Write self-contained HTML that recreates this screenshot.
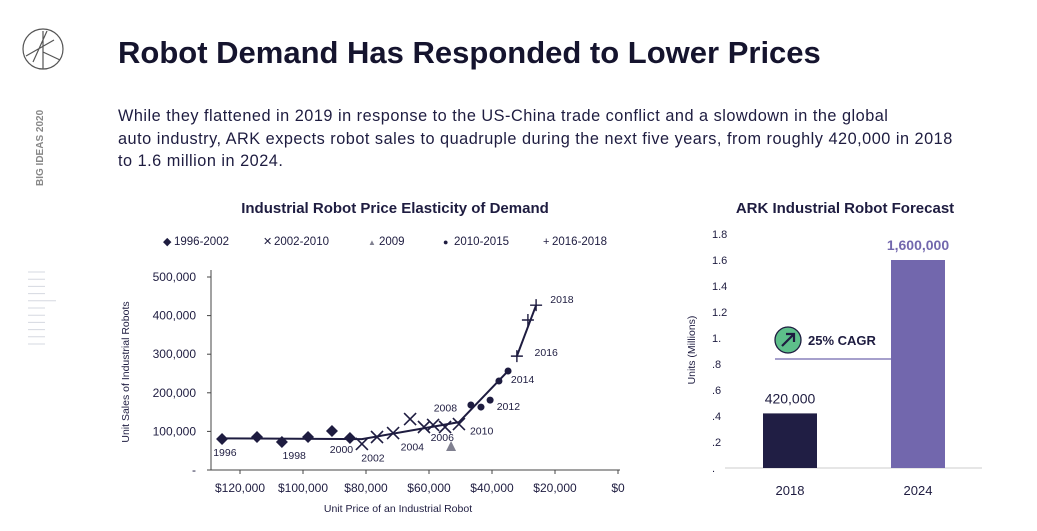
<!DOCTYPE html>
<html><head><meta charset="utf-8">
<style>
body{margin:0;width:1037px;height:531px;background:#fff;font-family:"Liberation Sans",sans-serif;color:#1e1c40;overflow:hidden;position:relative}
#title{position:absolute;left:118px;top:35px;font-size:31px;font-weight:bold;letter-spacing:0px;color:#15142e;white-space:nowrap}
#sub{position:absolute;left:118px;top:105px;font-size:16.3px;letter-spacing:0.5px;line-height:22.5px;color:#1e1c40;width:900px;white-space:nowrap}
svg{position:absolute;left:0;top:0}
</style></head><body>
<div id="title">Robot Demand Has Responded to Lower Prices</div>
<div id="sub">While they flattened in 2019 in response to the US-China trade conflict and a slowdown in the global<br>auto industry, ARK expects robot sales to quadruple during the next five years, from roughly 420,000 in 2018<br>to 1.6 million in 2024.</div>
<svg id="s" width="1037" height="531" font-family="Liberation Sans, sans-serif">
<g stroke="#555" fill="none" stroke-width="1.2">
<circle cx="43" cy="49" r="20"/><path d="M33 62 L47 31 M43 31 V69 M26 56 L54 40 M43 52 L60 60"/></g>
<text transform="translate(43,186) rotate(-90)" font-size="10" font-weight="bold" fill="#888">BIG IDEAS 2020</text>
<g id="side" stroke="#d5d8e0"></g>
<text x="395" y="213" text-anchor="middle" font-size="15" font-weight="bold" fill="#1e1c40">Industrial Robot Price Elasticity of Demand</text>
<text x="845" y="213" text-anchor="middle" font-size="15" font-weight="bold" fill="#1e1c40">ARK Industrial Robot Forecast</text>
<g id="left"></g><g id="right"></g>
</svg>
<script>
// Left chart data
const diamondPrice=[125700,114600,106700,98400,90800,85100];
const diamondUnits=[80300,85500,72500,85500,101000,82900];
const xPrice=[81300,76500,71400,66000,61600,58700,54900,50500];
const xUnits=[67400,85500,95800,132000,111400,116600,111400,119000];
const triPrice=[53000];const triUnits=[59600];
const dotPrice=[46700,43500,40600,37800,34900];
const dotUnits=[168400,163000,181000,230600,256500];
const plusPrice=[32100,28600,26000];
const plusUnits=[295000,388600,427000];
const trendPrice=[125700,81300,50500,34900];
const trendUnits=[82000,80000,124000,256500];
const trend2Price=[32100,26000];const trend2Units=[295000,427000];
const xTicks=[120000,100000,80000,60000,40000,20000,0];
const xTickLabels=["$120,000","$100,000","$80,000","$60,000","$40,000","$20,000","$0"];
const yTicks=[0,100000,200000,300000,400000,500000];
const yTickLabels=["-","100,000","200,000","300,000","400,000","500,000"];
const yearLabels=["1996","1998","2000","2002","2004","2006","2008","2010","2012","2014","2016","2018"];
const yearPrice=[128500,106500,91500,81500,69000,59500,58500,47000,38500,34000,26500,21500];
const yearUnits=[36000,28000,44000,22000,50000,75000,152000,92000,155000,226000,295000,433000];
// Right chart data
const barCats=["2018","2024"];const barVals=[0.42,1.6];
const barLabels=["420,000","1,600,000"];
const rTicks=[0,0.2,0.4,0.6,0.8,1.0,1.2,1.4,1.6,1.8];
const rTickLabels=[".",".2",".4",".6",".8","1.","1.2","1.4","1.6","1.8"];

const NS="http://www.w3.org/2000/svg";
function mk(p,t,a,txt){const e=document.createElementNS(NS,t);for(const k in a)e.setAttribute(k,a[k]);if(txt!==undefined)e.textContent=txt;p.appendChild(e);return e;}
const side=document.getElementById('side');
for(let i=0;i<11;i++){const l=mk(side,'line',{x1:28,x2:i==4?56:45,y1:272+i*7.2,y2:272+i*7.2});

}
const L=document.getElementById('left');
const X=v=>618-v*63/20000, Y=v=>470-v*38.6/100000;
const C="#1e1c40";
let ax=mk(L,'path',{d:'M211 270 V470 H620',stroke:'#444',fill:'none','stroke-width':1});


xTicks.forEach((v,i)=>{mk(L,'line',{x1:X(v),x2:X(v),y1:470,y2:474,stroke:'#444'});
const t=mk(L,'text',{x:X(v),y:492,'text-anchor':'middle','font-size':12,fill:C},xTickLabels[i]);

});
yTicks.forEach((v,i)=>{mk(L,'line',{x1:207,x2:211,y1:Y(v),y2:Y(v),stroke:'#444'});
const t=mk(L,'text',{x:196,y:Y(v)+4,'text-anchor':'end','font-size':12,fill:C},yTickLabels[i]);

});
let yt=mk(L,'text',{transform:'translate(129,372) rotate(-90)','text-anchor':'middle','font-size':10.5,fill:C},'Unit Sales of Industrial Robots');


let xt=mk(L,'text',{x:398,y:512,'text-anchor':'middle','font-size':10.5,fill:C},'Unit Price of an Industrial Robot');


function poly(pr,un,name){const d=pr.map((p,i)=>(i?'L':'M')+X(p)+' '+Y(un[i])).join(' ');
const e=mk(L,'path',{d:d,stroke:C,fill:'none','stroke-width':2});

}
poly(trendPrice,trendUnits,'trend-line');poly(trend2Price,trend2Units,'trend-line-2016-2018');
diamondPrice.forEach((p,i)=>{const x=X(p),y=Y(diamondUnits[i]);
const e=mk(L,'path',{d:`M${x} ${y-6}L${x+6} ${y}L${x} ${y+6}L${x-6} ${y}Z`,fill:C});

});
xPrice.forEach((p,i)=>{const x=X(p),y=Y(xUnits[i]);
const e=mk(L,'path',{d:`M${x-6} ${y-6}L${x+6} ${y+6}M${x+6} ${y-6}L${x-6} ${y+6}`,stroke:C,'stroke-width':1.6});

});
triPrice.forEach((p,i)=>{const x=X(p),y=Y(triUnits[i]);
const e=mk(L,'path',{d:`M${x} ${y-6}L${x+5} ${y+4}L${x-5} ${y+4}Z`,fill:'#808090'});

});
dotPrice.forEach((p,i)=>{const e=mk(L,'circle',{cx:X(p),cy:Y(dotUnits[i]),r:3.5,fill:C});

});
plusPrice.forEach((p,i)=>{const x=X(p),y=Y(plusUnits[i]);
const e=mk(L,'path',{d:`M${x-6} ${y}H${x+6}M${x} ${y-6}V${y+6}`,stroke:C,'stroke-width':1.4});

});
yearLabels.forEach((s,i)=>{const t=mk(L,'text',{x:X(yearPrice[i]),y:Y(yearUnits[i]),'font-size':10.5,fill:C},s);

});
// legend
const leg=[["◆","1996-2002",163],["✕","2002-2010",263],["▲","2009",368],["●","2010-2015",443],["+","2016-2018",543]];
leg.forEach(l=>{const g=mk(L,'g',{});


mk(g,'text',{x:l[2],y:245,'font-size':l[0]=="▲"?8:(l[0]=="●"?9:11),fill:l[0]=="▲"?'#808090':C},l[0]);
mk(g,'text',{x:l[2]+(l[0]=="+"?9:11),y:245,'font-size':11.5,fill:C},l[1]);});
// right chart
const R=document.getElementById('right');
const RY=v=>468-v*130;
let rb=mk(R,'line',{x1:725,x2:982,y1:468,y2:468,stroke:'#ccc'});


rTicks.forEach((v,i)=>{const t=mk(R,'text',{x:712,y:RY(v)+4,'font-size':11,fill:C},rTickLabels[i]);

});
let ryt=mk(R,'text',{transform:'translate(695,350) rotate(-90)','text-anchor':'middle','font-size':10.5,fill:C},'Units (Millions)');


const bx=[763,891],bc=["#201e44","#7267ad"],lc=["#1e1c40","#7267ad"];
barVals.forEach((v,i)=>{const b=mk(R,'rect',{x:bx[i],y:RY(v),width:54,height:v*130,fill:bc[i]});


const t=mk(R,'text',{x:bx[i]+27,y:RY(v)-10,'text-anchor':'middle','font-size':14,fill:lc[i],'font-weight':i?'bold':'normal'},barLabels[i]);


const c=mk(R,'text',{x:bx[i]+27,y:495,'text-anchor':'middle','font-size':13,fill:C},barCats[i]);

});
const cg=mk(R,'g',{});


mk(cg,'line',{x1:775,x2:891,y1:359,y2:359,stroke:'#7267ad','stroke-width':1.2});
mk(cg,'circle',{cx:788,cy:340,r:13,fill:'#5dbf8a',stroke:'#1e1c40','stroke-width':1.3});
mk(cg,'path',{d:'M782 346L794 334M786 334H794V342',stroke:'#1e1c40','stroke-width':2.2,fill:'none'});
mk(cg,'text',{x:808,y:345,'font-size':13,'font-weight':'bold',fill:'#1e1c40'},'25% CAGR');
</script>
</body></html>
